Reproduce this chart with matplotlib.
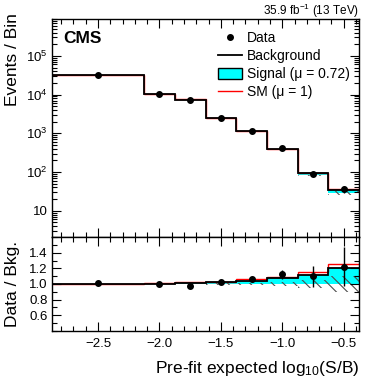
import numpy as np
import matplotlib
matplotlib.use('Agg')
import matplotlib.pyplot as plt
from matplotlib.ticker import MultipleLocator, FuncFormatter, FormatStrFormatter
from matplotlib.lines import Line2D
from matplotlib.patches import Patch

plt.rcParams['font.family'] = ['Liberation Sans', 'DejaVu Sans']
plt.rcParams['mathtext.fontset'] = 'custom'
plt.rcParams['mathtext.rm'] = 'Liberation Sans'
plt.rcParams['mathtext.it'] = 'Liberation Sans:italic'
plt.rcParams['mathtext.bf'] = 'Liberation Sans:bold'
plt.rcParams['hatch.linewidth'] = 0.8

# bins in pre-fit log10(S/B)
edges = [-2.875, -2.125, -1.875, -1.625, -1.375, -1.125, -0.875, -0.625, -0.375]
centers = [-2.5, -2.0, -1.75, -1.5, -1.25, -1.0, -0.75, -0.5]

# event counts
data = [32400, 10400, 7200, 2450, 1160, 415, 90, 35.5]
bkg = [32100, 10400, 7350, 2380, 1095, 370, 82, 29.1]
sig = [64, 52, 74, 48, 44, 26, 9.8, 5.8]          # fitted signal, mu = 0.72
sig_sm = [96, 104, 147, 71, 66, 33, 12.3, 7.6]    # SM signal, mu = 1
ratio_err = [0.006, 0.01, 0.012, 0.021, 0.031, 0.055, 0.13, 0.25]
bkg_unc = [0.004, 0.005, 0.006, 0.007, 0.01, 0.02, 0.05, 0.10]

data = np.array(data)
bkg = np.array(bkg)
sig = np.array(sig)
sig_sm = np.array(sig_sm)
ratio_err = np.array(ratio_err)
bkg_unc = np.array(bkg_unc)

fig = plt.figure(figsize=(3.74, 3.86), dpi=100)
ax = fig.add_axes([0.139, 0.386, 0.821, 0.565])
rax = fig.add_axes([0.139, 0.1425, 0.821, 0.2435], sharex=ax)

hatch = '\\\\\\'

# upper panel
ax.stairs(bkg + sig, edges, baseline=bkg, fill=True, facecolor='#00ffff', lw=0)
ax.stairs(bkg * (1 + bkg_unc), edges, baseline=bkg * (1 - bkg_unc), fill=True,
          facecolor='none', edgecolor='0.3', hatch=hatch, lw=0)
ax.stairs(bkg + sig_sm, edges, baseline=None, color='red', lw=1.0)
ax.stairs(bkg + sig, edges, baseline=None, color='black', lw=1.3)
ax.errorbar(centers, data, yerr=ratio_err * bkg, fmt='o', color='black', ms=4,
            elinewidth=1, capsize=0)

ax.set_yscale('log')
ax.set_ylim(2.1, 9e5)
ax.set_xlim(edges[0], edges[-1])

def logfmt(v, pos):
    e = int(round(np.log10(v)))
    if e == 1:
        return '10'
    return r'$10^{%d}$' % e

ax.yaxis.set_major_formatter(FuncFormatter(logfmt))
ax.set_ylabel('Events / Bin', fontsize=12.5, ha='right')
ax.yaxis.set_label_coords(-0.104, 1.028)

ax.text(1.0, 1.02, r'35.9 fb$^{-1}$ (13 TeV)', transform=ax.transAxes,
        ha='right', va='baseline', fontsize=8.5)
ax.text(0.036, 0.908, 'CMS', transform=ax.transAxes, ha='left', va='center',
        fontsize=12.5, fontweight='bold')

handles = [Line2D([], [], marker='o', color='black', ls='none', ms=4),
           Line2D([], [], color='black', lw=1.3),
           Patch(facecolor='#00ffff', edgecolor='black', lw=1),
           Line2D([], [], color='red', lw=1)]
labels = ['Data', 'Background', 'Signal (μ = 0.72)', 'SM (μ = 1)']
ax.legend(handles, labels, loc='upper left', bbox_to_anchor=(0.541, 0.946),
          frameon=False, fontsize=10, handlelength=1.75, handletextpad=0.35,
          labelspacing=0.3, borderpad=0, borderaxespad=0, handleheight=0.85)

# ratio panel
ratio = data / bkg
rax.stairs((bkg + sig) / bkg, edges, baseline=1.0, fill=True, facecolor='#00ffff', lw=0)
rax.stairs(1 + bkg_unc, edges, baseline=1 - bkg_unc, fill=True,
           facecolor='none', edgecolor='0.3', hatch=hatch, lw=0)
rax.stairs((bkg + sig_sm) / bkg, edges, baseline=None, color='red', lw=1.0)
rax.stairs((bkg + sig) / bkg, edges, baseline=None, color='black', lw=1.3)
rax.errorbar(centers, ratio, yerr=ratio_err, fmt='o', color='black', ms=4,
             elinewidth=1, capsize=0)

rax.set_ylim(0.4, 1.6)
rax.set_yticks([0.6, 0.8, 1.0, 1.2, 1.4])
rax.yaxis.set_minor_locator(MultipleLocator(0.1))
rax.yaxis.set_major_formatter(FormatStrFormatter('%.1f'))
rax.xaxis.set_major_locator(MultipleLocator(0.5))
rax.xaxis.set_minor_locator(MultipleLocator(0.1))
rax.set_ylabel('Data / Bkg.', fontsize=12.5)
rax.yaxis.set_label_coords(-0.104, 0.5)
rax.set_xlabel(r'Pre-fit expected log$_{10}$(S/B)', fontsize=12.5, ha='right')
rax.xaxis.set_label_coords(1.0, -0.3)

for a in (ax, rax):
    a.tick_params(which='both', direction='in', top=True, right=True,
                  labelsize=9.5, width=0.8)
    a.tick_params(which='major', length=6.5)
    a.tick_params(which='minor', length=3.5)
    a.tick_params(axis='x', pad=5)
    a.tick_params(axis='y', pad=3)
    for s in a.spines.values():
        s.set_linewidth(1.0)
ax.tick_params(labelbottom=False)

fig.savefig('out.png', dpi=100)
